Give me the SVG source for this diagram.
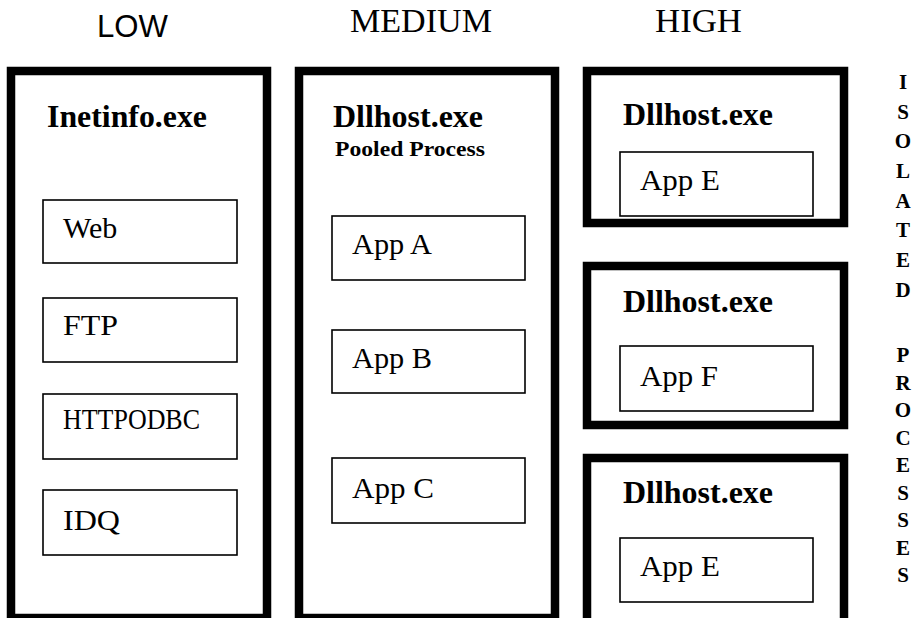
<svg xmlns="http://www.w3.org/2000/svg" width="913" height="618" viewBox="0 0 913 618">
  <style>
    .frame { fill: #fff; stroke: #000; stroke-width: 8.5; }
    .app { fill: #fff; stroke: #000; stroke-width: 1.6; }
    .hdr-sans { font-family: "Liberation Sans", Arial, sans-serif; font-size: 31px; fill: #000; }
    .hdr { font-family: "Liberation Serif", "Times New Roman", serif; font-size: 33px; fill: #000; }
    .proc { font-family: "Liberation Serif", "Times New Roman", serif; font-size: 31px; font-weight: bold; fill: #000; }
    .sub { font-family: "Liberation Serif", "Times New Roman", serif; font-size: 22px; font-weight: bold; fill: #000; }
    .lbl { font-family: "Liberation Serif", "Times New Roman", serif; font-size: 30px; fill: #000; }
    .side { font-family: "Liberation Serif", "Times New Roman", serif; font-size: 21px; font-weight: bold; fill: #000; text-anchor: middle; }
  </style>

  <!-- column headings -->
  <text class="hdr-sans" x="97" y="37" textLength="71" lengthAdjust="spacingAndGlyphs">LOW</text>
  <text class="hdr" x="350" y="32" textLength="142" lengthAdjust="spacingAndGlyphs">MEDIUM</text>
  <text class="hdr" x="655" y="32" textLength="87" lengthAdjust="spacingAndGlyphs">HIGH</text>

  <!-- low isolation: everything runs inside Inetinfo -->
  <g id="inetinfo">
    <rect class="frame" x="11" y="71" width="256" height="547"/>
    <text class="proc" x="47" y="127" textLength="160" lengthAdjust="spacingAndGlyphs">Inetinfo.exe</text>
  </g>
  <g id="web">
    <rect class="app" x="43" y="200" width="194" height="63"/>
    <text class="lbl" x="63" y="238">Web</text>
  </g>
  <g id="ftp">
    <rect class="app" x="43" y="298" width="194" height="64"/>
    <text class="lbl" x="63" y="335" textLength="55" lengthAdjust="spacingAndGlyphs">FTP</text>
  </g>
  <g id="httpodbc">
    <rect class="app" x="43" y="394" width="194" height="65"/>
    <text class="lbl" x="63" y="429" font-size="26" textLength="137" lengthAdjust="spacingAndGlyphs">HTTPODBC</text>
  </g>
  <g id="idq">
    <rect class="app" x="43" y="490" width="194" height="65"/>
    <text class="lbl" x="63" y="530" textLength="57" lengthAdjust="spacingAndGlyphs">IDQ</text>
  </g>

  <!-- medium isolation: pooled Dllhost -->
  <g id="dllhost-pooled">
    <rect class="frame" x="299" y="71" width="256" height="547"/>
    <text class="proc" x="333" y="127" textLength="150" lengthAdjust="spacingAndGlyphs">Dllhost.exe</text>
    <text class="sub" x="335" y="156" textLength="150" lengthAdjust="spacingAndGlyphs">Pooled Process</text>
  </g>
  <g id="app-a">
    <rect class="app" x="332" y="216" width="193" height="64"/>
    <text class="lbl" x="352" y="254" textLength="80" lengthAdjust="spacingAndGlyphs">App A</text>
  </g>
  <g id="app-b">
    <rect class="app" x="332" y="330" width="193" height="63"/>
    <text class="lbl" x="352" y="368" textLength="80" lengthAdjust="spacingAndGlyphs">App B</text>
  </g>
  <g id="app-c">
    <rect class="app" x="332" y="458" width="193" height="65"/>
    <text class="lbl" x="352" y="498" textLength="82" lengthAdjust="spacingAndGlyphs">App C</text>
  </g>

  <!-- high isolation: one Dllhost per application -->
  <g id="dllhost-1">
    <rect class="frame" x="587" y="71" width="257" height="152"/>
    <text class="proc" x="623" y="125" textLength="150" lengthAdjust="spacingAndGlyphs">Dllhost.exe</text>
  </g>
  <g id="app-e1">
    <rect class="app" x="620" y="152" width="193" height="64"/>
    <text class="lbl" x="640" y="190" textLength="80" lengthAdjust="spacingAndGlyphs">App E</text>
  </g>
  <g id="dllhost-2">
    <rect class="frame" x="587" y="266" width="257" height="159"/>
    <text class="proc" x="623" y="312" textLength="150" lengthAdjust="spacingAndGlyphs">Dllhost.exe</text>
  </g>
  <g id="app-f">
    <rect class="app" x="620" y="346" width="193" height="65"/>
    <text class="lbl" x="640" y="386" textLength="78" lengthAdjust="spacingAndGlyphs">App F</text>
  </g>
  <g id="dllhost-3">
    <rect class="frame" x="587" y="458" width="257" height="170"/>
    <text class="proc" x="623" y="503" textLength="150" lengthAdjust="spacingAndGlyphs">Dllhost.exe</text>
  </g>
  <g id="app-e2">
    <rect class="app" x="620" y="538" width="193" height="64"/>
    <text class="lbl" x="640" y="576" textLength="80" lengthAdjust="spacingAndGlyphs">App E</text>
  </g>

  <!-- vertical caption -->
  <g id="isolated-processes">
    <text class="side" x="903" y="89">I</text>
    <text class="side" x="903" y="119">S</text>
    <text class="side" x="903" y="148">O</text>
    <text class="side" x="903" y="178">L</text>
    <text class="side" x="903" y="208">A</text>
    <text class="side" x="903" y="237">T</text>
    <text class="side" x="903" y="267">E</text>
    <text class="side" x="903" y="297">D</text>
    <text class="side" x="903" y="362">P</text>
    <text class="side" x="903" y="390">R</text>
    <text class="side" x="903" y="417">O</text>
    <text class="side" x="903" y="445">C</text>
    <text class="side" x="903" y="472">E</text>
    <text class="side" x="903" y="500">S</text>
    <text class="side" x="903" y="527">S</text>
    <text class="side" x="903" y="555">E</text>
    <text class="side" x="903" y="582">S</text>
  </g>

  <g id="connectors"/>
</svg>
